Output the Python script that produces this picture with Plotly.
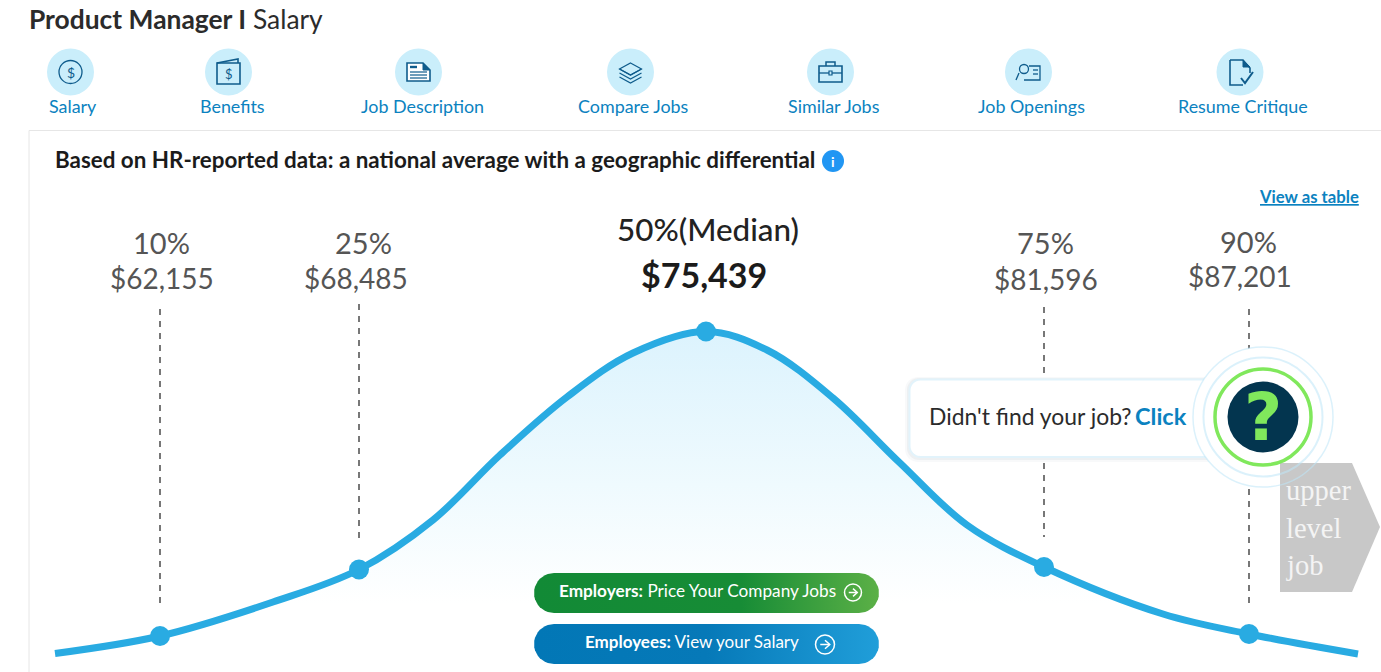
import plotly.graph_objects as go
import math

W, H = 1381, 672
FONT = "Lato"

percentiles = ["10%", "25%", "75%", "90%"]
salaries = [62155, 68485, 81596, 87201]
median_salary = 75439
pct_x = [161.5, 363.5, 1045, 1248]
sal_x = [161.5, 355.5, 1045.5, 1240]
label_top = [429, 429, 429, 430]
label_bottom = [393, 393, 392, 395]

marker_x = [160, 359, 706, 1044, 1249]
marker_h = [36, 102.5, 340.5, 105, 38]
drop_top = [363, 368, None, 365, 363]
drop_bottom = [68, 134, None, 135, 67]

curve_x = [55, 160, 273, 359, 433, 500, 567, 633, 706, 767, 833, 900, 967, 1044, 1163, 1249, 1358]
curve_h = [18.5, 36, 70, 102.5, 152, 217, 275, 319, 340.5, 322, 274, 209, 147, 105, 58, 38, 18]

tab_labels = ["Salary", "Benefits", "Job Description", "Compare Jobs",
              "Similar Jobs", "Job Openings", "Resume Critique"]
tab_icon_x = [70.5, 228.5, 418.5, 630.5, 830.5, 1028.5, 1240]
tab_label_x = [73, 232, 422, 633.5, 833.5, 1031.5, 1243]

BLUE = "#29abe2"
LINK = "#0b82c0"
ICON = "#0f5c8c"


def Y(py):
    return H - py


def circle(cx, cy, r, fill="rgba(0,0,0,0)", line=None, lw=0):
    return dict(type="circle", xref="x", yref="y", x0=cx - r, x1=cx + r,
                y0=Y(cy - r), y1=Y(cy + r), fillcolor=fill, layer="above",
                line=dict(color=line or "rgba(0,0,0,0)", width=lw))


def path(d_points, fill="rgba(0,0,0,0)", line=None, lw=0, close=False):
    d = "M " + " L ".join(f"{x},{Y(y)}" for x, y in d_points) + (" Z" if close else "")
    return dict(type="path", xref="x", yref="y", path=d, fillcolor=fill, layer="above",
                line=dict(color=line or "rgba(0,0,0,0)", width=lw))


def rrect_points(x0, y0, x1, y1, r, n=10):
    pts = []
    for cx, cy, a0 in [(x1 - r, y0 + r, -90), (x1 - r, y1 - r, 0), (x0 + r, y1 - r, 90), (x0 + r, y0 + r, 180)]:
        for i in range(n + 1):
            a = math.radians(a0 + 90 * i / n)
            pts.append((cx + r * math.cos(a), cy + r * math.sin(a)))
    return pts


def text(x, py, s, size, color="#333", anchor="center", family=FONT, **font_kw):
    return dict(x=x, y=Y(py - 1), xref="x", yref="y", text=s, showarrow=False, xanchor=anchor,
                yanchor="middle", font=dict(family=family, size=size, color=color, **font_kw),
                borderpad=0, borderwidth=0)


fig = go.Figure()

# area under the curve
fig.add_trace(go.Scatter(x=curve_x, y=curve_h, mode="lines", line=dict(width=0, shape="spline", smoothing=1),
                         fill="tozeroy", hoverinfo="skip",
                         fillgradient=dict(type="vertical",
                                           colorscale=[[0, "#ffffff"], [0.2, "#ffffff"], [0.55, "#effafe"],
                                                       [1, "#dcf3fd"]])))

# drop lines
for x, top, bot in zip(marker_x, drop_top, drop_bottom):
    if top is None:
        continue
    fig.add_trace(go.Scatter(x=[x, x], y=[top, bot], mode="lines", hoverinfo="skip",
                             line=dict(color="#777777", width=2, dash="6px,6px")))

# curve and markers
fig.add_trace(go.Scatter(x=curve_x, y=curve_h, mode="lines", hoverinfo="skip",
                         line=dict(color=BLUE, width=7, shape="spline", smoothing=1)))
fig.add_trace(go.Scatter(x=marker_x, y=marker_h, mode="markers", hoverinfo="skip",
                         marker=dict(color=BLUE, size=20)))


# gradient buttons
def pill(x0, y0, x1, y1, scale):
    pts = rrect_points(x0, y0, x1, y1, (y1 - y0) / 2)
    pts.append(pts[0])
    fig.add_trace(go.Scatter(x=[p[0] for p in pts], y=[Y(p[1]) for p in pts], mode="lines",
                             line=dict(width=0), fill="toself", hoverinfo="skip",
                             fillgradient=dict(type="horizontal", colorscale=scale)))


pill(534, 573, 879, 613, [[0, "#128a36"], [0.6, "#178c36"], [1, "#5bb046"]])
pill(534, 624, 879, 664, [[0, "#0277b6"], [0.5, "#0679b8"], [1, "#209ed9"]])

shapes = []
# card frame
shapes.append(path([(29, 672), (29, 130.5), (1381, 130.5)], line="#e6e6e6", lw=1))

# tab icon discs
for x in tab_icon_x:
    shapes.append(circle(x, 72, 23.5, fill="#caeefb"))

# salary icon
shapes.append(circle(70.5, 72, 11.5, line=ICON, lw=1.3))
# benefits icon
shapes.append(path([(217, 63), (217, 84), (240, 84), (240, 63)], line=ICON, lw=1.6, close=True))
shapes.append(path([(217, 63), (238, 59), (238, 63)], line=ICON, lw=1.6))
# job description icon
shapes.append(path([(407, 63), (423, 63), (430, 70), (430, 81), (407, 81)], fill="#ffffff", line=ICON, lw=1.6, close=True))
shapes.append(path([(423, 63), (423, 70), (430, 70)], fill=ICON, line=ICON, lw=1, close=True))
shapes.append(path([(410, 67), (417, 67)], line=ICON, lw=2.4))
for yy in (72, 75, 78):
    shapes.append(path([(410, yy), (427, yy)], line=ICON, lw=1.2))
# compare icon (layers)
for dy in (0, 4, 8):
    shapes.append(path([(619.5, 69 + dy), (630.5, 75 + dy), (641.5, 69 + dy)], line=ICON, lw=1.2))
shapes.append(path([(630.5, 63), (641.5, 69), (630.5, 75), (619.5, 69)], line=ICON, lw=1.2, close=True))
# briefcase
shapes.append(path([(819, 66), (819, 82), (842, 82), (842, 66)], line=ICON, lw=1.6, close=True))
shapes.append(path([(826, 66), (826, 62), (835, 62), (835, 66)], line=ICON, lw=1.5))
shapes.append(path([(819, 73), (842, 73)], line=ICON, lw=1.3))
shapes.append(path([(829, 71), (832, 71), (832, 75), (829, 75)], fill="#caeefb", line=ICON, lw=1.2, close=True))
# job openings
shapes.append(circle(1024, 69, 4.5, line=ICON, lw=1.3))
shapes.append(path([(1019, 73), (1016, 80)], line=ICON, lw=1.3))
shapes.append(path([(1029, 66), (1040, 66), (1040, 80), (1024, 80)], line=ICON, lw=1.3))
for yy in (70, 74):
    shapes.append(path([(1033, yy), (1038, yy)], line=ICON, lw=1.3))
# resume
shapes.append(path([(1230, 60), (1243, 60), (1250, 68), (1250, 73)], line=ICON, lw=1.6))
shapes.append(path([(1243, 85), (1230, 85), (1230, 60)], line=ICON, lw=1.6))
shapes.append(path([(1243, 60), (1243, 67), (1250, 67)], fill=ICON, line=ICON, lw=1, close=True))
shapes.append(path([(1241, 78), (1245, 83), (1253, 72)], line=ICON, lw=2))

# info icon
shapes.append(circle(833, 161, 11, fill="#2196f3"))

# pill arrows
for cx, cy, r in [(853, 592.5, 8.5), (825, 644.5, 9.5)]:
    shapes.append(circle(cx, cy, r, line="#ffffff", lw=1.5))
    shapes.append(path([(cx - r * 0.5, cy), (cx + r * 0.5, cy)], line="#ffffff", lw=1.5))
    shapes.append(path([(cx, cy - r * 0.45), (cx + r * 0.5, cy), (cx, cy + r * 0.45)], line="#ffffff", lw=1.5))

# callout
shapes.append(path(rrect_points(905, 377, 1240, 462, 13), fill="rgba(120,140,150,0.05)", close=True))
shapes.append(path(rrect_points(907, 378, 1240, 460, 12), fill="rgba(120,140,150,0.08)", close=True))
shapes.append(path(rrect_points(909.5, 379.5, 1240, 457, 11), fill="#ffffff", line="#e2f3fb", lw=2, close=True))
shapes.append(circle(1263, 417, 70, fill="#ffffff"))
# upper level tag
shapes.append(path([(1280, 463), (1352, 463), (1380, 527), (1352, 592), (1280, 592)], fill="#c8c8c8", close=True))
shapes.append(circle(1263, 417, 70, line="rgba(190,230,248,0.55)", lw=1.5))
shapes.append(circle(1263, 417, 59.5, line="rgba(190,230,248,0.55)", lw=2))
shapes.append(circle(1263, 417, 48, fill="#ffffff", line="#80e85c", lw=3.5))
shapes.append(circle(1263, 417, 35.5, fill="#03354f"))

ann = []
ann.append(text(29, 20, "<b>Product Manager I</b> Salary", 26.4, "#2b2b2b", "left"))
for lab, x in zip(tab_labels, tab_label_x):
    ann.append(text(x, 107, lab, 17.9, LINK))
ann.append(text(70.5, 73, "$", 14, ICON))
ann.append(text(228.5, 75, "$", 13, ICON))
ann.append(text(55, 160, "<b>Based on HR-reported data: a national average with a geographic differential</b>", 22.4, "#1b1b1b", "left"))
ann.append(text(833, 162, "<b>i</b>", 14, "#ffffff"))
ann.append(text(1359, 198, "<b>View as table</b>", 16.7, LINK, "right", lineposition="under"))
for p, s, px, sx, t, b in zip(percentiles, salaries, pct_x, sal_x, label_top, label_bottom):
    ann.append(text(px, H - t, p, 29, "#555555"))
    ann.append(text(sx, H - b, f"${s:,}", 28, "#555555"))
ann.append(text(708, 230, "50%(Median)", 31.4, "#222222", weight=500))
ann.append(text(704, 275, f"<b>${median_salary:,}</b>", 34, "#1b1b1b"))
ann.append(text(929, 417, "Didn't find your job?", 22.9, "#2b2b2b", "left"))
ann.append(text(1135, 417, "<b>Click</b>", 23.5, LINK, "left"))
ann.append(text(1263, 418, "<b>?</b>", 66, "#80e85c", family="DejaVu Sans"))
for word, py in zip(["upper", "level", "job"], [491, 529, 566]):
    ann.append(text(1286, py, word, 28.5, "#f4f4f4", "left", family="Liberation Serif"))
ann.append(text(559, 591.5, "<b>Employers:</b> Price Your Company Jobs", 17.2, "#ffffff", "left"))
ann.append(text(585, 642.5, "<b>Employees:</b> View your Salary", 17, "#ffffff", "left"))

fig.update_layout(
    width=W, height=H, margin=dict(l=0, r=0, t=0, b=0), showlegend=False,
    paper_bgcolor="#ffffff", plot_bgcolor="#ffffff", shapes=shapes, annotations=ann,
    xaxis=dict(range=[0, W], visible=False, fixedrange=True),
    yaxis=dict(range=[0, H], visible=False, fixedrange=True),
)

fig.write_html("out.html", config=dict(displayModeBar=False),
               post_script="document.body.style.margin='0';document.body.style.overflow='hidden';")
